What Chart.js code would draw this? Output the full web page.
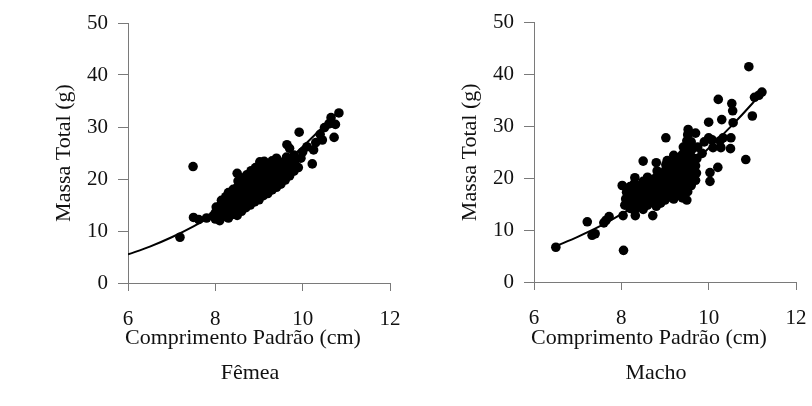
<!DOCTYPE html>
<html><head><meta charset="utf-8">
<script src="https://cdn.jsdelivr.net/npm/chart.js@4"></script>
<style>
html,body{margin:0;padding:0;background:#fff;}
#wrap{display:flex;width:812px;height:406px;}
.panel{width:406px;height:406px;}
canvas{display:block;}
</style></head><body>
<div id="wrap"><div class="panel"><canvas id="c1" width="406" height="406"></canvas></div><div class="panel"><canvas id="c2" width="406" height="406"></canvas></div></div>
<script>
const xTicks = [6, 8, 10, 12];
const yTicks = [0, 10, 20, 30, 40, 50];
const xTitle = 'Comprimento Padrão (cm)';
const yTitle = 'Massa Total (g)';
const captions = ['Fêmea', 'Macho'];

// Fêmea: observed points [comprimento, massa]
const femeaPontos = [
  [7.19,8.8],[7.49,22.4],[7.5,12.6],[7.62,12.2],[7.8,12.5],[7.95,12.9],[8.5,21.1],
  [9.92,29.0],[10.22,22.9],[10.83,32.7],[10.65,31.8],[10.72,28.0],[10.5,29.9],[10.4,28.6],
  [10.25,25.6],[10.3,27.0],[10.6,30.6],[10.45,27.5],[10.1,26.2],[10.0,25.2],[9.96,24.0],
  [9.64,26.6],[9.7,25.9],[9.02,23.3],[10.75,30.5],
  [8.0,12.3],[8.0,13.5],[8.02,14.6],
  [8.1,12.0],[8.12,13.2],[8.1,14.8],[8.14,15.9],
  [8.2,12.8],[8.22,14.0],[8.2,15.2],[8.24,16.6],
  [8.3,12.5],[8.32,13.6],[8.3,14.9],[8.33,16.2],[8.3,17.4],
  [8.4,13.2],[8.42,14.4],[8.4,15.6],[8.43,16.8],[8.41,18.0],
  [8.5,13.0],[8.52,14.2],[8.5,15.5],[8.53,16.9],[8.5,18.4],[8.52,19.6],
  [8.6,13.8],[8.62,15.0],[8.6,16.2],[8.63,17.5],[8.6,18.8],[8.62,20.2],
  [8.7,14.5],[8.72,15.8],[8.7,17.0],[8.73,18.3],[8.7,19.5],[8.72,20.8],
  [8.8,15.0],[8.82,16.4],[8.8,17.7],[8.83,19.0],[8.8,20.4],[8.82,21.6],
  [8.9,15.6],[8.92,16.9],[8.9,18.2],[8.93,19.6],[8.9,20.9],[8.92,22.2],
  [9.0,16.0],[9.02,17.4],[9.0,18.8],[9.03,20.1],[9.0,21.5],[9.02,22.8],
  [9.1,16.8],[9.12,18.1],[9.1,19.5],[9.13,20.8],[9.1,22.2],[9.12,23.4],
  [9.2,17.2],[9.22,18.6],[9.2,20.0],[9.23,21.4],[9.2,22.7],
  [9.3,17.9],[9.32,19.3],[9.3,20.7],[9.33,22.0],[9.3,23.5],
  [9.4,18.4],[9.42,19.8],[9.4,21.2],[9.43,22.6],[9.4,24.0],
  [9.5,19.0],[9.52,20.5],[9.5,21.8],[9.53,23.2],
  [9.6,19.8],[9.62,21.2],[9.6,22.6],[9.63,24.2],
  [9.7,20.6],[9.72,22.0],[9.7,23.4],
  [9.8,21.5],[9.82,23.0],[9.8,24.6],[9.9,22.2]
];
// Fêmea: fitted curve
const femeaCurvaX = [6, 6.5, 7, 7.5, 8, 8.5, 9, 9.5, 10, 10.5, 10.8];
const femeaCurvaY = [5.5, 7.0, 8.8, 10.9, 13.3, 16.0, 19.0, 22.4, 26.2, 30.3, 32.8];

// Macho: observed points
const machoPontos = [
  [6.5,6.7],[7.22,11.6],[7.33,9.0],[7.4,9.3],[7.65,11.9],[7.72,12.6],[7.6,11.4],[8.05,6.1],
  [8.02,18.6],[8.04,12.8],[8.32,12.8],[8.72,12.8],[8.5,23.3],[8.8,23.0],[9.05,23.4],[9.02,27.8],
  [9.53,29.4],[9.7,28.7],[10.0,30.8],[10.03,21.1],[10.03,19.4],[10.21,22.1],[10.0,27.8],
  [10.33,27.8],[10.51,27.8],[10.28,25.9],[10.5,25.7],[10.85,23.6],[10.22,35.2],[10.53,34.4],
  [10.55,33.0],[11.0,32.0],[11.05,35.6],[11.22,36.6],[11.15,36.0],[10.92,41.5],[10.3,31.3],
  [10.56,30.7],[10.08,27.4],[10.1,25.9],[10.26,27.2],[9.75,26.0],[9.85,24.8],[9.6,25.5],[9.9,27.0],
  [8.08,14.8],[8.24,15.7],[8.31,20.1],
  [8.1,16.0],[8.12,17.3],
  [8.2,14.2],[8.22,17.0],[8.2,18.4],
  [8.3,13.8],[8.32,15.2],[8.3,16.6],[8.33,18.0],[8.3,19.0],
  [8.4,14.5],[8.42,15.8],[8.4,17.2],[8.43,18.6],
  [8.5,14.0],[8.52,15.4],[8.5,16.8],[8.53,18.2],[8.5,19.4],
  [8.6,14.8],[8.62,16.2],[8.6,17.6],[8.63,19.0],[8.6,20.2],
  [8.7,15.4],[8.72,16.8],[8.7,18.2],[8.73,19.6],
  [8.8,14.6],[8.82,16.0],[8.8,17.4],[8.83,18.8],[8.8,20.2],[8.82,21.4],
  [8.9,15.2],[8.92,16.6],[8.9,18.0],[8.93,19.4],[8.9,20.8],
  [9.0,15.8],[9.02,17.2],[9.0,18.6],[9.03,20.0],[9.0,21.4],[9.02,22.6],
  [9.1,16.4],[9.12,17.8],[9.1,19.2],[9.13,20.6],[9.1,22.0],
  [9.2,16.0],[9.22,17.4],[9.2,18.8],[9.23,20.2],[9.2,21.6],[9.22,23.0],[9.2,24.4],
  [9.3,17.0],[9.32,18.4],[9.3,19.8],[9.33,21.2],[9.3,22.6],[9.32,24.0],
  [9.4,16.2],[9.42,17.6],[9.4,19.0],[9.43,20.4],[9.4,21.8],[9.42,23.2],[9.4,24.6],[9.42,26.0],
  [9.5,15.8],[9.52,17.4],[9.5,18.8],[9.53,20.2],[9.5,21.6],[9.52,23.0],[9.5,24.4],[9.52,25.8],[9.5,27.2],[9.52,28.4],
  [9.6,18.6],[9.62,20.0],[9.6,21.4],[9.63,22.8],[9.6,24.2],[9.62,25.6],[9.6,27.0],
  [9.7,19.6],[9.72,21.0],[9.7,22.4],[9.73,23.8]
];
const machoCurvaX = [6.5, 7, 7.5, 8, 8.5, 9, 9.5, 10, 10.5, 11, 11.2];
const machoCurvaY = [6.9, 8.7, 10.7, 13.1, 15.7, 18.7, 22.0, 25.8, 29.9, 34.4, 36.4];

const FONT = '"Liberation Serif", "Times New Roman", serif';
const AXIS_COLOR = '#7a7a7a';

const captionPlugin = {
  id: 'captions',
  afterDraw(chart, args, o) {
    const ctx = chart.ctx;
    ctx.save();
    ctx.fillStyle = '#111';
    ctx.textAlign = 'center';
    ctx.textBaseline = 'middle';
    ctx.font = '22px ' + FONT;
    ctx.fillText(xTitle, o.titleX, o.titleY);
    ctx.fillText(o.caption, o.capX, o.capY);
    ctx.restore();
  }
};

function makeChart(id, pts, cx, cy, caption, area) {
  const curve = cx.map((x, i) => ({x: x, y: cy[i]}));
  return new Chart(document.getElementById(id), {
    type: 'scatter',
    data: {
      datasets: [
        {type: 'line', data: curve, borderColor: '#000', borderWidth: 2, pointRadius: 0,
         fill: false, cubicInterpolationMode: 'monotone', order: 0},
        {data: pts.map(p => ({x: p[0], y: p[1]})), backgroundColor: '#000', borderColor: '#000',
         pointRadius: 4.8, borderWidth: 0, order: 1}
      ]
    },
    options: {
      responsive: false, animation: false, devicePixelRatio: 1,
      layout: {padding: {left: 0, right: 406 - area.right, top: area.top, bottom: 0}},
      plugins: {legend: {display: false}, tooltip: {enabled: false},
        captions: {caption: caption, titleX: 243, titleY: 338, capX: 250, capY: 373}},
      scales: {
        x: {
          type: 'linear', min: 6, max: 12,
          afterBuildTicks: s => { s.ticks = xTicks.map(v => ({value: v})); },
          afterFit: s => { s.height = 406 - area.bottom; s.paddingLeft = 6; s.paddingRight = 12; },
          grid: {display: true, drawOnChartArea: false, drawTicks: true, tickLength: 8, color: AXIS_COLOR},
          border: {display: true, color: AXIS_COLOR, width: 1},
          ticks: {color: '#111', font: {family: FONT, size: 21}, padding: 16, maxRotation: 0}
        },
        y: {
          type: 'linear', min: 0, max: 50,
          afterBuildTicks: s => { s.ticks = yTicks.map(v => ({value: v})); },
          afterFit: s => { s.width = area.left; },
          grid: {display: true, drawOnChartArea: false, drawTicks: true, tickLength: 10, color: AXIS_COLOR},
          border: {display: true, color: AXIS_COLOR, width: 1},
          ticks: {color: '#111', font: {family: FONT, size: 21}, padding: 10},
          title: {display: true, text: yTitle, color: '#111', font: {family: FONT, size: 22}, padding: {top: 51, bottom: 0}}
        }
      }
    },
    plugins: [captionPlugin]
  });
}

makeChart('c1', femeaPontos, femeaCurvaX, femeaCurvaY, captions[0], {left: 128, right: 390, top: 23, bottom: 283});
makeChart('c2', machoPontos, machoCurvaX, machoCurvaY, captions[1], {left: 128, right: 390, top: 21, bottom: 282});
</script>
</body></html>
